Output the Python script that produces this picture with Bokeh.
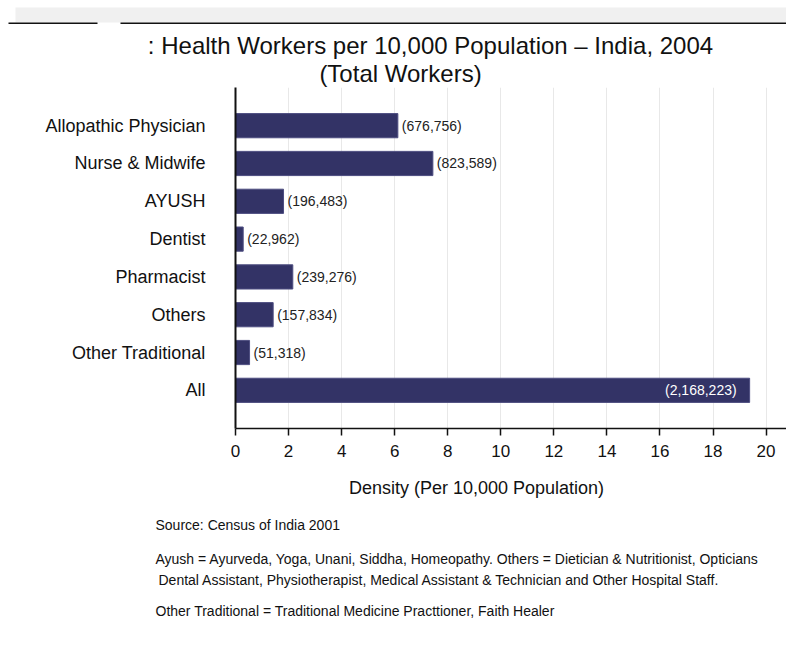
from bokeh.plotting import figure
from bokeh.models import FactorRange, Range1d, ColumnDataSource, FixedTicker
from bokeh.layouts import column
from bokeh.embed import file_html
from bokeh.resources import INLINE
from bokeh.core.properties import value

# ---------------- data ----------------
categories = ["Allopathic Physician", "Nurse & Midwife", "AYUSH", "Dentist",
              "Pharmacist", "Others", "Other Traditional", "All"]
density = [6.12, 7.44, 1.81, 0.29, 2.16, 1.42, 0.53, 19.38]
workers = [676756, 823589, 196483, 22962, 239276, 157834, 51318, 2168223]
x_ticks = [0, 2, 4, 6, 8, 10, 12, 14, 16, 18, 20]

title_lines = [": Health Workers per 10,000 Population \u2013 India, 2004",
               "(Total Workers)"]
x_label = "Density (Per 10,000 Population)"
notes = [
    "Source: Census of India 2001",
    "Ayush = Ayurveda, Yoga, Unani, Siddha, Homeopathy. Others = Dietician & Nutritionist, Opticians",
    "Dental Assistant, Physiotherapist, Medical Assistant & Technician and Other Hospital Staff.",
    "Other Traditional = Traditional Medicine Practtioner, Faith Healer",
]

FONT = "Liberation Sans"
W = 786
LEFT = 235          # left border shared by all stacked figures (frames are aligned)
FW = W - LEFT       # frame width
X_END = 20.77
BAR = "#333366"
HEAD_H = 87
FRAME_H = 341
BOTTOM = 85
FOOT_H = 657 - HEAD_H - FRAME_H - BOTTOM
FOOT_Y0 = HEAD_H + FRAME_H + BOTTOM   # page y where the footer starts


def blank_fig(h):
    f = figure(frame_width=FW, frame_height=h, min_border_left=LEFT, min_border_right=0,
               min_border_top=0, min_border_bottom=0,
               x_range=Range1d(LEFT, W), y_range=Range1d(h, 0),
               x_axis_location=None, y_axis_location=None,
               output_backend="svg", toolbar_location=None)
    f.grid.visible = False
    f.outline_line_color = None
    return f


# ---------------- header ----------------
header = blank_fig(HEAD_H)
header.quad(left=[15], right=[W], top=[7], bottom=[22], fill_color="#f0f0f0",
            line_color=None, level="overlay")
header.segment(x0=[8, 120], y0=[22.7, 22.7], x1=[97, W], y1=[22.7, 22.7],
               line_color="#111111", line_width=1.5, level="overlay")
header.text(x=[430, 400], y=[45, 73], text=title_lines, text_align="center",
            text_baseline="alphabetic", text_font=value(FONT), text_font_size="24px",
            text_color="#111111", level="overlay")

# ---------------- main chart ----------------
labels = ["(" + format(w, ",") + ")" for w in workers]
src = ColumnDataSource(dict(cat=categories, density=density, label=labels))
out_idx = [i for i, c in enumerate(categories) if c != "All"]
in_idx = [i for i, c in enumerate(categories) if c == "All"]
src_out = ColumnDataSource(dict(cat=[categories[i] for i in out_idx],
                                density=[density[i] for i in out_idx],
                                label=[labels[i] for i in out_idx]))
src_in = ColumnDataSource(dict(cat=[categories[i] for i in in_idx],
                               density=[density[i] for i in in_idx],
                               label=[labels[i] for i in in_idx]))

p = figure(frame_width=FW, frame_height=FRAME_H,
           min_border_left=LEFT, min_border_right=0, min_border_top=0, min_border_bottom=BOTTOM,
           y_range=FactorRange(factors=categories[::-1], range_padding=0.51,
                               range_padding_units="absolute"),
           x_range=Range1d(0, X_END),
           output_backend="svg", toolbar_location=None)
p.outline_line_color = None

p.hbar(y="cat", right="density", left=0, height=0.64, source=src,
       fill_color=BAR, line_color="#4d4d80", line_width=1)
p.text(x="density", y="cat", text="label", source=src_out, x_offset=4,
       text_align="left", text_baseline="middle", text_font=value(FONT),
       text_font_size="14px", text_color="#222222")
p.text(x="density", y="cat", text="label", source=src_in, x_offset=-13,
       text_align="right", text_baseline="middle", text_font=value(FONT),
       text_font_size="14px", text_color="#ffffff")

# x-axis title, placed slightly left of the frame centre as in the original
px_per_unit = FW / X_END
p.text(x=[(476 - LEFT) / px_per_unit], y=[categories[-1]], text=[x_label],
       y_offset=98, text_align="center", text_baseline="middle",
       text_font=value(FONT), text_font_size="18px", text_color="#111111",
       level="overlay")

p.xaxis.ticker = FixedTicker(ticks=x_ticks)
p.xgrid.ticker = FixedTicker(ticks=x_ticks)
p.xgrid.grid_line_color = "#e8e8e8"
p.ygrid.grid_line_color = None

p.xaxis.major_label_text_font = FONT
p.xaxis.major_label_text_font_size = "17px"
p.xaxis.major_label_text_color = "#111111"
p.xaxis.major_label_standoff = 9
p.xaxis.major_tick_out = 7
p.xaxis.major_tick_in = 0
p.xaxis.minor_tick_out = 0
p.xaxis.minor_tick_in = 0
p.xaxis.axis_line_color = "#111111"
p.xaxis.axis_line_width = 1.5
p.xaxis.major_tick_line_color = "#111111"
p.xaxis.major_tick_line_width = 1.5

p.yaxis.major_label_text_font = FONT
p.yaxis.major_label_text_font_size = "18px"
p.yaxis.major_label_text_color = "#111111"
p.yaxis.major_label_standoff = 30
p.yaxis.major_tick_out = 0
p.yaxis.major_tick_in = 0
p.yaxis.minor_tick_out = 0
p.yaxis.minor_tick_in = 0
p.yaxis.axis_line_color = "#111111"
p.yaxis.axis_line_width = 2

# ---------------- footer ----------------
footer = blank_fig(FOOT_H)
note_y = [524.5, 558, 579, 610]   # page y of each note line
footer.text(x=[155, 155, 158, 155], y=[v - FOOT_Y0 for v in note_y], text=notes,
            text_align="left", text_baseline="middle", text_font=value(FONT),
            text_font_size="14px", text_color="#111111", level="overlay")

layout = column(header, p, footer, spacing=0)
open("out.html", "w").write(file_html(layout, INLINE))
